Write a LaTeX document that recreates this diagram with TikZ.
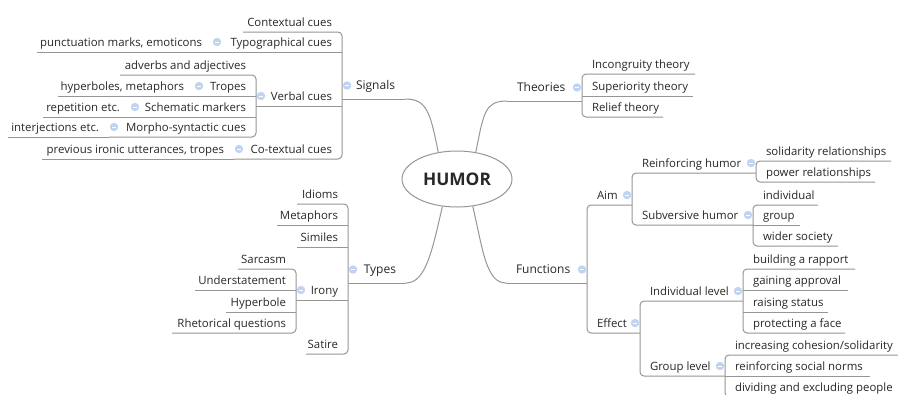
\documentclass[tikz,border=0pt]{standalone}
\usepackage{fontspec}
\setmainfont{Open Sans}
\usetikzlibrary{shapes.geometric}
\definecolor{ln}{RGB}{150,150,150}
\definecolor{txt}{RGB}{40,40,40}
\definecolor{fb}{RGB}{192,211,240}
\newcommand\TopicL[6]{\pgfmathsetmacro\tw{((#4)-(#3)-20)*0.75}\node[#1,anchor=south east] (#2) at (#4,#5) {\makebox[\tw pt][r]{#6}};}
\newcommand\TopicR[6]{\pgfmathsetmacro\tw{((#4)-(#3)-20)*0.75}\node[#1,anchor=south west] (#2) at (#3,#5) {\makebox[\tw pt][l]{#6}};}
\newcommand\FoldL[2]{\node[fold] at ([shift={(5,#2)}]#1.south west) {};}
\newcommand\FoldR[2]{\node[fold] at ([shift={(-5,#2)}]#1.south east) {};}
\tikzset{
  basetopic/.style={text=txt, inner xsep=7.5pt, text depth=0pt, outer sep=0pt},
  sub/.style={basetopic, font=\fontsize{8.55}{10}\selectfont, inner ysep=4.1pt},
  main/.style={basetopic, font=\fontsize{9}{11}\selectfont, inner ysep=7.1pt},
  link/.style={draw=ln, line width=0.75pt},
  bar/.style={link, rounded corners=3pt},
  fold/.style={circle, fill=fb, minimum size=6.3pt, inner sep=0pt,
    path picture={\draw[white, line width=0.5pt]
      ([xshift=-1.7pt]path picture bounding box.center) -- ([xshift=1.7pt]path picture bounding box.center);}},
}
\begin{document}
\begin{tikzpicture}[x=0.75pt, y=-0.75pt]
\useasboundingbox (0,0) rectangle (898,394);
\clip (0,0) rectangle (898,394);
\fill[white] (0,0) rectangle (898,394);

% central topic
\node[ellipse, draw=ln, line width=0.75pt, minimum width=82.5pt, minimum height=42pt, inner sep=0pt,
      text=txt, font=\bfseries\fontsize{13}{15}\selectfont] (humor) at (457,179) {HUMOR};

% ---------- Signals ----------
\TopicL{main}{sig}{342}{405}{99}{Signals}
\TopicL{sub}{ctx}{243}{342}{32}{Contextual cues}
\TopicL{sub}{typ}{212}{342}{52}{Typographical cues}
\TopicL{sub}{punc}{37}{212}{52}{punctuation marks, emoticons}
\TopicL{sub}{verb}{256}{342}{106}{Verbal cues}
\TopicL{sub}{adv}{120}{256}{75}{adverbs and adjectives}
\TopicL{sub}{trop}{194}{256}{96}{Tropes}
\TopicL{sub}{hyp}{58}{194}{96}{hyperboles, metaphors}
\TopicL{sub}{sch}{130}{256}{117}{Schematic markers}
\TopicL{sub}{rep}{43}{130}{117}{repetition etc.}
\TopicL{sub}{mor}{109}{256}{137}{Morpho-syntactic cues}
\TopicL{sub}{inter}{8}{109}{137}{interjections etc.}
\TopicL{sub}{cot}{234}{342}{159}{Co-textual cues}
\TopicL{sub}{prev}{42}{234}{159}{previous ironic utterances, tropes}

% ---------- Types ----------
\TopicL{main}{typs}{348}{406}{283}{Types}
\TopicL{sub}{idi}{297}{348}{204}{Idioms}
\TopicL{sub}{met}{277}{348}{225}{Metaphors}
\TopicL{sub}{sim}{297}{348}{247}{Similes}
\TopicL{sub}{iro}{296}{348}{300}{Irony}
\TopicL{sub}{sar}{238}{296}{269}{Sarcasm}
\TopicL{sub}{und}{195}{296}{290}{Understatement}
\TopicL{sub}{hyb}{226}{296}{312}{Hyperbole}
\TopicL{sub}{rhe}{172}{296}{333}{Rhetorical questions}
\TopicL{sub}{sat}{306}{348}{354}{Satire}

% ---------- Theories ----------
\TopicR{main}{theo}{507}{582}{101}{Theories}
\TopicR{sub}{inc}{582}{695}{74}{Incongruity theory}
\TopicR{sub}{sup}{582}{693}{96}{Superiority theory}
\TopicR{sub}{rel}{582}{663}{117}{Relief theory}

% ---------- Functions ----------
\TopicR{main}{func}{506}{587}{283}{Functions}
\TopicR{sub}{aim}{587}{632}{205}{Aim}
\TopicR{sub}{reh}{632}{756}{173}{Reinforcing humor}
\TopicR{sub}{sol}{756}{891}{161}{solidarity relationships}
\TopicR{sub}{pow}{756}{875}{182}{power relationships}
\TopicR{sub}{svh}{632}{753}{225}{Subversive humor}
\TopicR{sub}{ind}{753}{818}{205}{individual}
\TopicR{sub}{grp}{753}{800}{225}{group}
\TopicR{sub}{wid}{753}{838}{246}{wider society}
\TopicR{sub}{eff}{587}{640}{333}{Effect}
\TopicR{sub}{ilv}{640}{743}{301}{Individual level}
\TopicR{sub}{rap}{743}{855}{269}{building a rapport}
\TopicR{sub}{gap}{743}{848}{290}{gaining approval}
\TopicR{sub}{ras}{743}{828}{312}{raising status}
\TopicR{sub}{pro}{743}{845}{333}{protecting a face}
\TopicR{sub}{glv}{640}{725}{376}{Group level}
\TopicR{sub}{coh}{725}{905}{355}{increasing cohesion/solidarity}
\TopicR{sub}{rsn}{725}{870}{376}{reinforcing social norms}
\TopicR{sub}{div}{725}{905}{397}{dividing and excluding people}

% ---------- curves from the centre ----------
\draw[link] (humor.125) .. controls +(-8,-40) and +(22,0) .. (sig.south east);
\draw[link] (humor.55) .. controls +(8,-40) and +(-22,0) .. (theo.south west);
\draw[link] (humor.242) .. controls +(-10,43) and +(20,0) .. (typs.south east);
\draw[link] (humor.300) .. controls +(10,43) and +(-20,0) .. (func.south west);

% ---------- straight underlines ----------
\foreach \n in {sig,typ,punc,verb,trop,hyp,sch,rep,inter,prev,typs,met,sim,iro,und,hyb,theo,sup,func,grp,gap,ras,rsn}
  \draw[link] (\n.south west) -- (\n.south east);

% ---------- bars (left side) ----------
\draw[bar] (ctx.south west) -- (ctx.south east) -- (cot.south east) -- (cot.south west);
\draw[bar] (adv.south west) -- (adv.south east) -- (mor.south east) -- (mor.south west);
\draw[bar] (idi.south west) -- (idi.south east) -- (sat.south east) -- (sat.south west);
\draw[bar] (sar.south west) -- (sar.south east) -- (rhe.south east) -- (rhe.south west);

% ---------- bars (right side) ----------
\draw[bar] (inc.south east) -- (inc.south west) -- (rel.south west) -- (rel.south east);
\draw[bar] (aim.south east) -- (aim.south west) -- (eff.south west) -- (eff.south east);
\draw[bar] (reh.south east) -- (reh.south west) -- (svh.south west) -- (svh.south east);
\draw[bar] (sol.south east) -- (sol.south west) -- (pow.south west) -- (pow.south east);
\draw[bar] (ind.south east) -- (ind.south west) -- (wid.south west) -- (wid.south east);
\draw[bar] (ilv.south east) -- (ilv.south west) -- (glv.south west) -- (glv.south east);
\draw[bar] (rap.south east) -- (rap.south west) -- (pro.south west) -- (pro.south east);
\draw[bar] (coh.south east) -- (coh.south west) -- (div.south west) -- (div.south east);

% ---------- fold markers ----------
\FoldL{sig}{-13.5}
\FoldL{typs}{-13.5}
\FoldL{typ}{-10}
\FoldL{verb}{-10}
\FoldL{trop}{-10}
\FoldL{sch}{-10}
\FoldL{mor}{-10}
\FoldL{cot}{-10}
\FoldL{iro}{-10}
\FoldR{theo}{-13.5}
\FoldR{func}{-13.5}
\FoldR{aim}{-10}
\FoldR{reh}{-10}
\FoldR{svh}{-10}
\FoldR{eff}{-10}
\FoldR{ilv}{-10}
\FoldR{glv}{-10}
\end{tikzpicture}
\end{document}
